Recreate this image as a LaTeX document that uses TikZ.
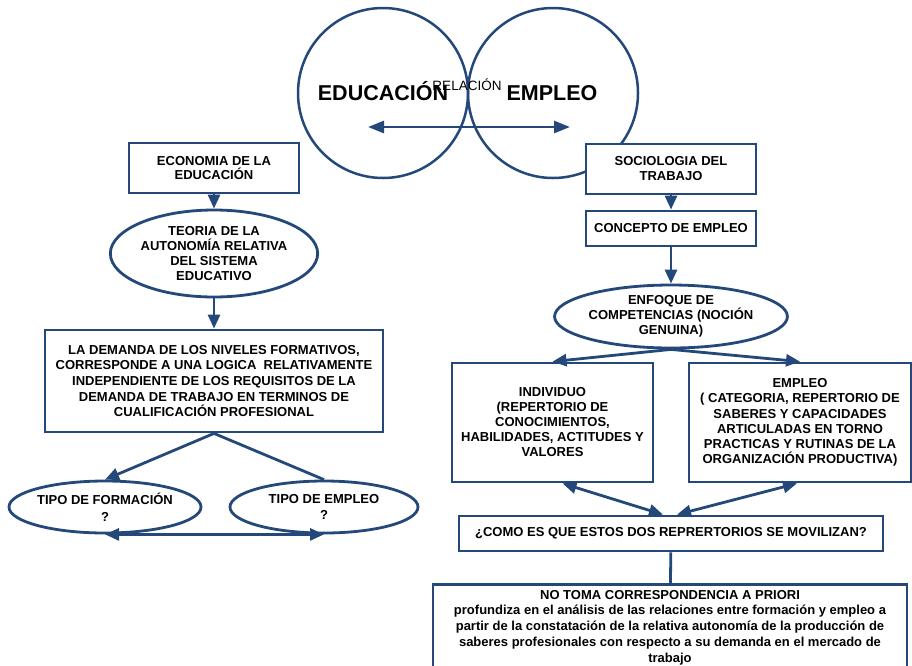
\documentclass[tikz,border=0pt]{standalone}
\usepackage{fontspec}
\setmainfont{Liberation Sans}
\usetikzlibrary{arrows.meta,shapes.geometric}
\definecolor{dblue}{RGB}{36,72,122}
\begin{document}
\begin{tikzpicture}[x=1pt,y=-1pt,
  line/.style={draw=dblue,line width=2.8pt},
  arr/.style={line,-{Triangle[length=14pt,width=12pt]}},
  darr/.style={line,{Triangle[length=14pt,width=12pt]}-{Triangle[length=14pt,width=12pt]}},
  bigarr/.style={line,{Triangle[length=16pt,width=12pt]}-{Triangle[length=16pt,width=12pt]}},
  box/.style={rectangle,draw=dblue,line width=2.8pt,fill=white,inner sep=0pt,align=center,
    font=\bfseries\fontsize{13}{15}\selectfont},
  oval/.style={ellipse,draw=dblue,line width=2.8pt,fill=white,inner sep=0pt,align=center,
    font=\bfseries\fontsize{13}{15}\selectfont},
  ring/.style={circle,draw=dblue,line width=2.5pt,inner sep=0pt,minimum size=170pt},
  big/.style={font=\bfseries\fontsize{21.5}{24}\selectfont,anchor=base,inner sep=0pt}
]
\useasboundingbox (0,0) rectangle (912,665);
\clip (0,0) rectangle (912,665);

% circles
\node[ring] (cedu) at (383,93) {};
\node[ring] (cemp) at (553,93) {};
\node[big] (tedu) at (383,100) {EDUCACIÓN};
\node[big] (temp2) at (552,100) {EMPLEO};
\node[anchor=base,inner sep=0pt,font=\fontsize{13.5}{15}\selectfont] (rel) at (467,90) {RELACIÓN};
\coordinate (ra) at (368,127);
\coordinate (rb) at (570,127);
\draw[bigarr] (ra) -- (rb);

% left branch
\node[box,minimum width=170pt,minimum height=50pt,font=\bfseries\fontsize{13}{13.5}\selectfont] (eco) at (214,168) {ECONOMIA DE LA\\EDUCACIÓN};
\node[oval,minimum width=205pt,minimum height=87pt] (teo) at (214,253.5) {TEORIA DE LA\\AUTONOMÍA RELATIVA\\DEL SISTEMA\\EDUCATIVO};
\node[box,minimum width=338pt,minimum height=102pt,font=\bfseries\fontsize{13}{15.7}\selectfont] (dem) at (214,381) {LA DEMANDA DE LOS NIVELES FORMATIVOS,\\CORRESPONDE A UNA LOGICA\ \ RELATIVAMENTE\\INDEPENDIENTE DE LOS REQUISITOS DE LA\\DEMANDA DE TRABAJO EN TERMINOS DE\\CUALIFICACIÓN PROFESIONAL};
\node[oval,minimum width=186pt,minimum height=52pt,font=\bfseries\fontsize{13}{16.5}\selectfont] (form) at (105,507) {TIPO DE FORMACIÓN\\?};
\node[oval,minimum width=188pt,minimum height=52pt,font=\bfseries\fontsize{13}{16.5}\selectfont] (tipemp) at (324,507) {TIPO DE EMPLEO\\?};

\draw[arr] (eco.south) -- (eco.south |- teo.north);
\draw[arr] (teo.south) -- (dem.north);
\draw[arr] (dem.south) -- (form.north);
\draw[line] (dem.south) -- (tipemp.north);
\draw[darr] (form.south) -- (tipemp.south);

% right branch
\node[box,minimum width=170pt,minimum height=50pt] (soc) at (671,169) {SOCIOLOGIA DEL\\TRABAJO};
\node[box,minimum width=170pt,minimum height=35pt] (con) at (671,228.5) {CONCEPTO DE EMPLEO};
\node[oval,minimum width=204pt,minimum height=63pt] (enf) at (671,316.5) {ENFOQUE DE\\COMPETENCIAS (NOCIÓN\\GENUINA)};
\node[box,minimum width=201pt,minimum height=119pt] (ind) at (552.5,422.5) {INDIVIDUO\\(REPERTORIO DE\\CONOCIMIENTOS,\\HABILIDADES, ACTITUDES Y\\VALORES};
\node[box,minimum width=222pt,minimum height=119pt,font=\bfseries\fontsize{13}{15.3}\selectfont] (empb) at (800,422.5) {EMPLEO\\( CATEGORIA, REPERTORIO DE\\SABERES Y CAPACIDADES\\ARTICULADAS EN TORNO\\PRACTICAS Y RUTINAS DE LA\\ORGANIZACIÓN PRODUCTIVA)};
\node[box,minimum width=424pt,minimum height=35pt] (como) at (671,533.5) {¿COMO ES QUE ESTOS DOS REPRERTORIOS SE MOVILIZAN?};
\node[box,anchor=north,minimum width=474pt,minimum height=86pt,font=\bfseries\fontsize{13}{15.7}\selectfont] (fin) at (670,583) {NO TOMA CORRESPONDENCIA A PRIORI\\profundiza en el análisis de las relaciones entre formación y empleo a\\partir de la constatación de la relativa autonomía de la producción de\\saberes profesionales con respecto a su demanda en el mercado de\\trabajo};

\draw[arr] (soc) -- (con);
\draw[arr] (con) -- (enf);
\draw[arr] (enf.south) -- (ind.north);
\draw[arr] (enf.south) -- (empb.north);
\draw[darr] ([xshift=10pt]ind.south) -- ([xshift=-8pt]como.north);
\draw[darr] ([xshift=-3pt]empb.south) -- ([xshift=6pt]como.north);
\draw[line] (como) -- (fin);
\end{tikzpicture}
\end{document}
